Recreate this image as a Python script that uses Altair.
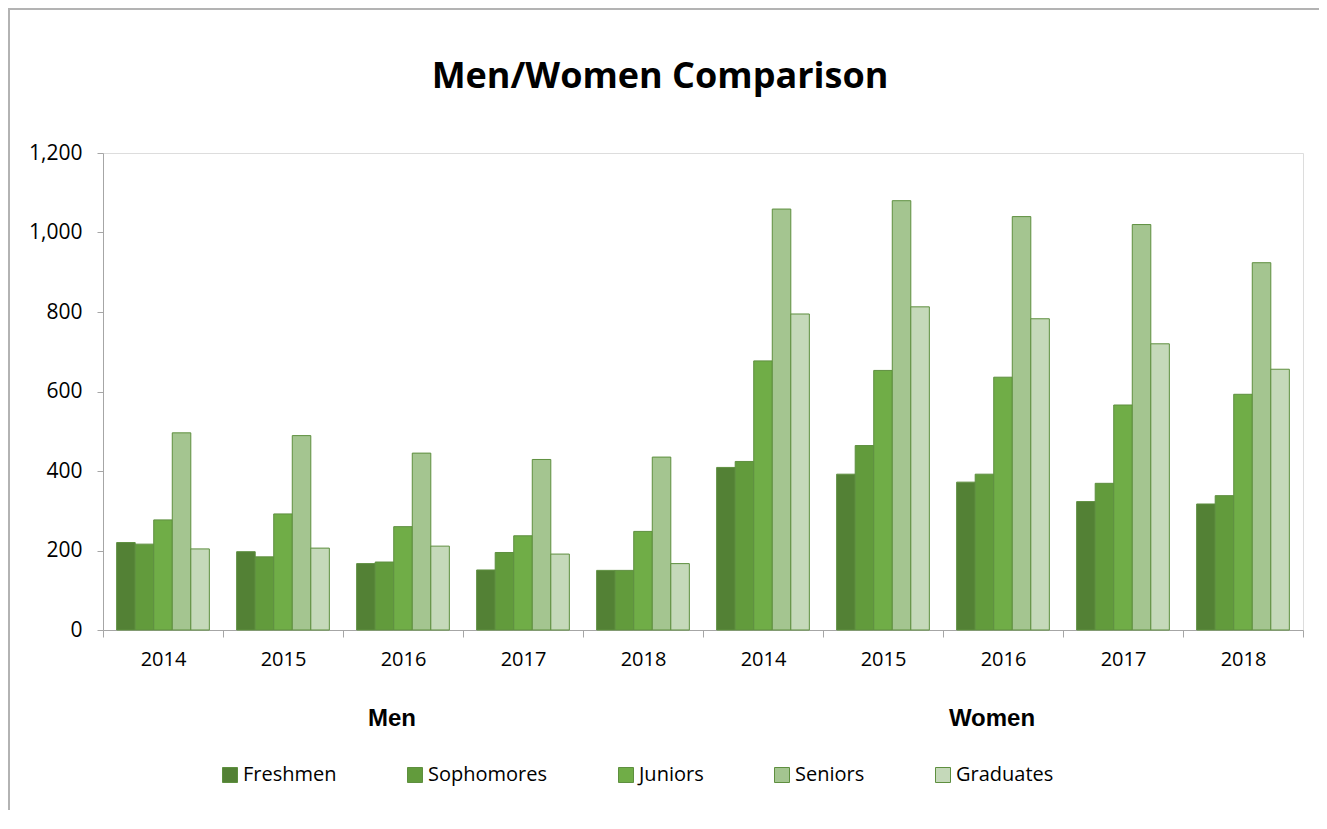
import altair as alt
import pandas as pd

classes = ["Freshmen", "Sophomores", "Juniors", "Seniors", "Graduates"]
years = ["2014", "2015", "2016", "2017", "2018"]
groups = ["Men", "Women"]
title_text = "Men/Women Comparison"

men = {
    "Freshmen":   [220, 197, 167, 151, 150],
    "Sophomores": [216, 184, 171, 195, 150],
    "Juniors":    [277, 292, 260, 237, 248],
    "Seniors":    [496, 489, 445, 429, 435],
    "Graduates":  [204, 206, 211, 191, 167],
}
women = {
    "Freshmen":   [409, 392, 372, 323, 317],
    "Sophomores": [424, 464, 392, 369, 338],
    "Juniors":    [677, 653, 636, 566, 593],
    "Seniors":    [1059, 1080, 1040, 1020, 924],
    "Graduates":  [795, 813, 783, 720, 656],
}
colors = ["#538135", "#629B3C", "#70AD47", "#A4C590", "#C5D9BA"]

rows = []
for g, table in zip(groups, [men, women]):
    for c in classes:
        for y, v in zip(years, table[c]):
            rows.append({"key": f"{g}|{y}", "cls": c, "value": v})
df = pd.DataFrame(rows)
keys = [f"{g}|{y}" for g in groups for y in years]

grp_df = pd.DataFrame({"key": [f"{g}|2016" for g in groups], "label": groups})

FONT = "Open Sans"

xscale = alt.Scale(domain=keys, paddingInner=0, paddingOuter=0)

bars = alt.Chart(df).mark_bar(stroke="#5E8F3F", strokeWidth=1).encode(
    x=alt.X("key:N", scale=xscale, title=None,
            axis=alt.Axis(labelExpr="split(datum.label, '|')[1]", labelAngle=0,
                          tickBand="extent", tickSize=7, tickColor="#A6A6A6",
                          domainColor="#A6A6A6", labelFont=FONT, labelFontSize=20,
                          labelColor="#000000", labelPadding=12, grid=False)),
    xOffset=alt.XOffset("cls:N", sort=classes,
                        scale=alt.Scale(domain=classes, paddingInner=0, paddingOuter=0.736)),
    y=alt.Y("value:Q", scale=alt.Scale(domain=[0, 1200], nice=False), title=None,
            axis=alt.Axis(values=[0, 200, 400, 600, 800, 1000, 1200], format=",d",
                          tickSize=6, tickColor="#A6A6A6", domainColor="#A6A6A6",
                          labelFont=FONT, labelFontSize=21, labelColor="#000000",
                          labelPadding=15, grid=False)),
    color=alt.Color("cls:N", sort=classes,
                    scale=alt.Scale(domain=classes, range=colors), title=None,
                    legend=alt.Legend(orient="none", direction="horizontal",
                                      legendX=117, legendY=612,
                                      symbolType="square", symbolSize=225,
                                      symbolStrokeWidth=1, labelFont=FONT,
                                      labelFontSize=20, labelColor="#000000",
                                      labelOffset=3, columnPadding=68,
                                      padding=0)),
)

grp_text = alt.Chart(grp_df).mark_text(
    font="Liberation Sans", fontSize=24, fontWeight="bold", color="#000000",
    baseline="alphabetic", align="center", dx=-11,
).encode(
    x=alt.X("key:N", scale=xscale),
    y=alt.value(573),
    text="label:N",
)

title = alt.Chart(alt.Data(values=[{"t": title_text}])).mark_text(
    font=FONT, fontSize=36, fontWeight="bold", color="#000000",
    baseline="alphabetic", align="center",
).encode(x=alt.value(557), y=alt.value(-65), text="t:N")

frame_v = alt.Chart(alt.Data(values=[{}])).mark_rule(color="#B3B3B3", strokeWidth=2).encode(
    x=alt.value(-94), y=alt.value(-145), y2=alt.value(680))
frame_h = alt.Chart(alt.Data(values=[{}])).mark_rule(color="#B3B3B3", strokeWidth=2).encode(
    x=alt.value(-95), x2=alt.value(1216), y=alt.value(-144))

chart = alt.layer(bars, grp_text, title, frame_v, frame_h).properties(
    width=1200, height=477,
    padding={"left": 95, "top": 145, "right": 16, "bottom": 180},
    autosize=alt.AutoSizeParams(type="none"),
).configure_view(fill="#EAF0E8", stroke=None).configure(background="#FFFFFF")

chart.save("out.html", embed_options={"renderer": "svg", "actions": False})
